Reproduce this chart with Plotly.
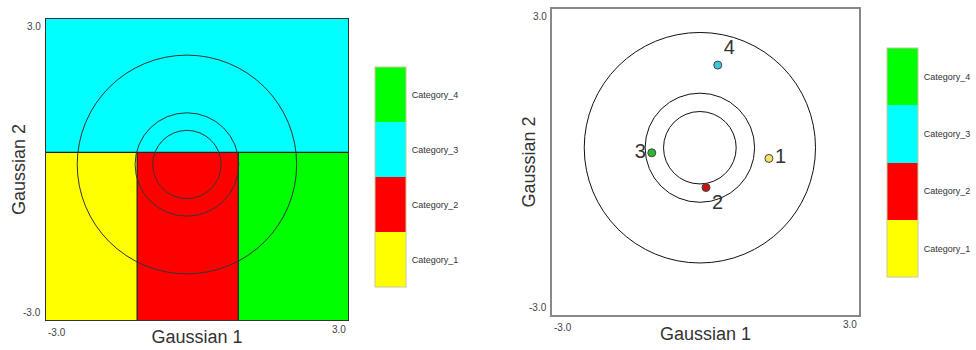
import plotly.graph_objects as go

# ---------------- data ----------------
categories = ["Category_1", "Category_2", "Category_3", "Category_4"]
category_colors = ["#ffff00", "#ff0000", "#00ffff", "#00ff00"]

axis_range = [-3.0, 3.0]
tick_values = [-3.0, 3.0]
tick_labels = ["-3.0", "3.0"]

# left panel: decision regions (bin edges + class index per cell)
region_x_edges = [-3.0, -1.19, 0.82, 3.0]
region_y_edges = [-3.0, 0.34, 3.0]
region_classes = [[1, 2, 4],
                  [3, 3, 3]]

# left panel: Gaussian contour circles
left_center = [-0.2, 0.1]
left_radii = [0.68, 1.03, 2.18]

# right panel: Gaussian contour circles
right_center = [-0.11, 0.28]
right_radii = [0.71, 1.07, 2.26]

# right panel: class prototypes
point_labels = ["1", "2", "3", "4"]
point_x = [1.24, 0.01, -1.05, 0.24]
point_y = [0.07, -0.50, 0.18, 1.90]
point_colors = ["#f2e36a", "#c81414", "#2fb52f", "#3cc6dc"]

# ---------------- figure ----------------
n = len(categories)
cscale = []
for i, c in enumerate(category_colors):
    cscale.append([i / n, c])
    cscale.append([(i + 1) / n, c])

fig = go.Figure()

fig.add_trace(go.Heatmap(
    x=region_x_edges, y=region_y_edges, z=region_classes,
    coloraxis="coloraxis", xaxis="x", yaxis="y", hoverinfo="skip",
))

fig.add_trace(go.Scatter(
    x=point_x, y=point_y, mode="markers+text",
    text=point_labels,
    textposition=["middle right", "bottom right", "middle left", "top right"],
    textfont=dict(family="Liberation Sans, Arial", size=20, color="#333333"),
    marker=dict(size=8, color=point_colors, line=dict(color="#444444", width=1)),
    xaxis="x2", yaxis="y2", showlegend=False, hoverinfo="skip",
))
# empty trace carrying the second colour bar (right panel)
fig.add_trace(go.Scatter(
    x=[None], y=[None], mode="markers",
    marker=dict(color=[1], coloraxis="coloraxis2"),
    xaxis="x2", yaxis="y2", showlegend=False,
))

shapes = []
ytop_split = region_y_edges[1]
shapes.append(dict(type="line", xref="x", yref="y", x0=region_x_edges[0], x1=region_x_edges[-1],
                   y0=ytop_split, y1=ytop_split, line=dict(color="#222222", width=1.2)))
for xe in region_x_edges[1:-1]:
    shapes.append(dict(type="line", xref="x", yref="y", x0=xe, x1=xe,
                       y0=region_y_edges[0], y1=ytop_split, line=dict(color="#222222", width=1.2)))
for r in left_radii:
    shapes.append(dict(type="circle", xref="x", yref="y",
                       x0=left_center[0] - r, x1=left_center[0] + r,
                       y0=left_center[1] - r, y1=left_center[1] + r,
                       line=dict(color="#333333", width=1)))
for r in right_radii:
    shapes.append(dict(type="circle", xref="x2", yref="y2",
                       x0=right_center[0] - r, x1=right_center[0] + r,
                       y0=right_center[1] - r, y1=right_center[1] + r,
                       line=dict(color="#111111", width=1), layer="below"))

annotations = []
tfont = dict(family="Liberation Sans, Arial", size=10, color="#444444")
for xa, ya in (("x", "y"), ("x2", "y2")):
    annotations.append(dict(xref=xa, yref=ya + " domain", x=tick_values[0], y=0, yshift=-5,
                            text=tick_labels[0], showarrow=False, xanchor="left", yanchor="top", font=tfont))
    annotations.append(dict(xref=xa, yref=ya + " domain", x=tick_values[1], y=0, yshift=-2,
                            text=tick_labels[1], showarrow=False, xanchor="right", yanchor="top", font=tfont))
    annotations.append(dict(xref=xa + " domain", yref=ya, x=0, xshift=-3, y=tick_values[0],
                            text=tick_labels[0], showarrow=False, xanchor="right", yanchor="bottom", font=tfont))
    annotations.append(dict(xref=xa + " domain", yref=ya, x=0, xshift=-3, y=tick_values[1],
                            text=tick_labels[1], showarrow=False, xanchor="right", yanchor="top", font=tfont))

cb_common = dict(
    tickmode="array", tickvals=[1, 2, 3, 4], ticktext=categories,
    ticks="outside", ticklen=4, tickcolor="rgba(0,0,0,0)",
    thickness=31, thicknessmode="pixels", lenmode="fraction",
    outlinewidth=1, outlinecolor="#c8c8a0", xanchor="left", yanchor="middle",
    xpad=0, ypad=0, tickfont=dict(family="Liberation Sans, Arial", size=9, color="#333333"),
)

title_font = dict(family="Liberation Sans, Arial", size=18, color="#333333")
axis_common = dict(range=axis_range, showgrid=False, zeroline=False, showticklabels=False,
                   ticks="", mirror=True, showline=True, fixedrange=True)

fig.update_layout(
    width=976, height=350,
    margin=dict(l=0, r=0, t=0, b=0),
    paper_bgcolor="white", plot_bgcolor="white",
    showlegend=False,
    coloraxis=dict(colorscale=cscale, cmin=0.5, cmax=4.5,
                   colorbar=dict(x=375 / 976, y=1 - 177 / 350, len=220 / 350, **cb_common)),
    coloraxis2=dict(colorscale=cscale, cmin=0.5, cmax=4.5,
                    colorbar=dict(x=887 / 976, y=1 - 162.5 / 350, len=229 / 350, **cb_common)),
    xaxis=dict(domain=[46 / 976, 348 / 976], anchor="y", linecolor="#333333", linewidth=1.2,
               title=dict(text="Gaussian 1", font=title_font, standoff=10), **axis_common),
    yaxis=dict(domain=[(350 - 320) / 350, (350 - 19) / 350], anchor="x", linecolor="#333333", linewidth=1.2,
               title=dict(text="Gaussian 2", font=title_font, standoff=14), **axis_common),
    xaxis2=dict(domain=[552 / 976, 859 / 976], anchor="y2", linecolor="#888888", linewidth=1.5,
                title=dict(text="Gaussian 1", font=title_font, standoff=12), **axis_common),
    yaxis2=dict(domain=[(350 - 315) / 350, (350 - 9) / 350], anchor="x2", linecolor="#888888", linewidth=1.5,
                title=dict(text="Gaussian 2", font=title_font, standoff=10), **axis_common),
    shapes=shapes,
    annotations=annotations,
)

fig.write_html("out.html")
